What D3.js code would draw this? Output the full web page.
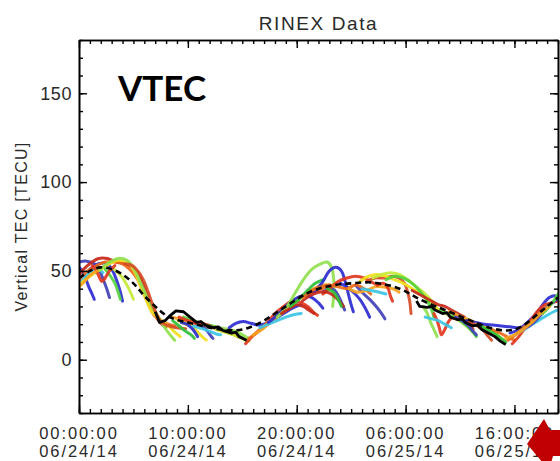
<!DOCTYPE html>
<html>
<head>
<meta charset="utf-8">
<script src="https://cdn.jsdelivr.net/npm/d3@7"></script>
<style>
  body { margin: 0; background: #fff; }
  svg { display: block; }
</style>
</head>
<body>
<div id="chart"></div>
<script>
// hours since 06/24/14 00:00 UT, TEC in TECU
const tickHours = [0, 10, 20, 30, 40];
const tickTimes = ['00:00:00', '10:00:00', '20:00:00', '06:00:00', '16:00:00'];
const tickDates = ['06/24/14', '06/24/14', '06/24/14', '06/25/14', '06/25/14'];
const yMajor = [0, 50, 100, 150];

// station mean VTEC, one value per hour (0..44)
const meanTec = [46, 50, 52, 51, 48, 43, 36, 30, 25, 22.5, 21, 19.5, 18, 17, 16.5,
  17, 19, 22, 26, 30, 34, 37.5, 40, 41.5, 42.5, 43, 43.5, 43.5, 42.5, 41, 38.5,
  35, 32, 29.5, 27, 24.5, 22, 19.5, 17.5, 16.5, 17, 20, 25, 30, 35];

// reference receiver (solid black), two passes
const refPassA = [[7, 27], [7.4, 21], [7.9, 22], [8.4, 25], [8.9, 27.5], [9.6, 27],
  [10.2, 24], [10.8, 21], [11.2, 21.5], [11.6, 19.5], [12.4, 18], [12.8, 18.5],
  [13.2, 16.5], [14, 15], [14.4, 15.5], [14.7, 13], [15.4, 11]];
const refPassB = [[31, 33], [31.3, 30], [32, 29.5], [32.4, 30], [32.7, 28], [33.4, 26],
  [33.8, 26.5], [34.1, 24], [34.8, 22.5], [35.2, 23], [35.5, 21], [36.2, 19],
  [36.6, 19.5], [37, 17], [37.6, 15], [38.2, 13], [38.7, 10.5], [39.2, 8.5]];

// satellite arcs
const satIds = ['G02', 'G05', 'G06', 'G07', 'G09', 'G10', 'G13', 'G16', 'G20', 'G23', 'G26', 'G29', 'G30'];
const arcs = [
  { sat: 'G02', pts: [[0, 52], [0.3, 50], [0.6, 46], [0.9, 41], [1.2, 37], [1.4, 34]] },
  { sat: 'G05', pts: [[0, 55], [0.7, 55.5], [1.4, 54], [1.9, 50], [2.3, 44], [2.6, 39], [2.8, 35]] },
  { sat: 'G02', pts: [[1, 51], [1.8, 54], [2.6, 54], [3.1, 50], [3.5, 44], [3.8, 38], [4, 33]] },
  { sat: 'G06', pts: [[0, 44], [0.6, 47], [1.2, 50], [1.8, 51], [2.2, 49]] },
  { sat: 'G29', pts: [[0, 48], [0.6, 52], [1.2, 55], [1.8, 57], [2.6, 57], [3.4, 55], [4.2, 54], [4.9, 52], [5.5, 48], [6, 41], [6.4, 34], [6.8, 28], [7.2, 23], [7.6, 20], [8, 18.5]] },
  { sat: 'G23', pts: [[0, 45], [0.8, 50], [1.6, 53], [2.4, 55], [3.2, 55], [4, 54], [4.8, 50], [5.4, 45], [5.9, 38], [6.4, 31], [6.9, 25], [7.5, 22], [8.2, 20], [8.8, 19]] },
  { sat: 'G16', pts: [[0, 42], [1, 47], [2, 51], [2.8, 54], [3.6, 56], [4.4, 55], [5, 51], [5.5, 44], [6.1, 35], [6.7, 27], [7.4, 23], [8.2, 19], [8.9, 15], [9.3, 13]] },
  { sat: 'G10', pts: [[1.6, 49], [2.6, 54], [3.6, 57], [4.4, 56], [5, 52], [5.6, 44], [6.2, 36], [6.8, 29], [7.4, 23], [8, 17], [8.5, 13], [8.8, 11]] },
  { sat: 'G09', pts: [[2.4, 51], [2.9, 47], [3.3, 43], [3.6, 38], [3.8, 34]] },
  { sat: 'G13', pts: [[3.2, 51], [3.9, 47], [4.4, 42], [4.8, 37], [5, 34]] },
  { sat: 'G26', pts: [[1.2, 53], [1.6, 50], [1.9, 46], [2.1, 44], [2.4, 46], [2.8, 50], [3.3, 53]] },
  { sat: 'G20', pts: [[0, 41], [0.5, 44], [1.1, 48], [1.7, 50]] },
  { sat: 'G30', pts: [[4.2, 54], [4.9, 53], [5.4, 50], [5.9, 45], [6.3, 39], [6.7, 32], [7.1, 26], [7.6, 21], [8.3, 19], [9, 18], [9.8, 17.5]] },

  { sat: 'G20', pts: [[8.4, 24], [9.2, 23], [10, 21], [10.8, 20], [11.6, 19], [12.4, 18], [13.2, 16], [14, 14.5], [14.6, 13]] },
  { sat: 'G16', pts: [[9.1, 22], [9.8, 20], [10.5, 18], [11, 15], [11.4, 12.5], [11.7, 11]] },
  { sat: 'G09', pts: [[9.6, 24], [10.5, 22], [11.4, 20], [12.3, 19], [13.2, 17], [14.1, 15], [14.8, 13], [15.3, 11]] },
  { sat: 'G02', pts: [[9.4, 21], [9.9, 20], [10.4, 17.5], [10.7, 15], [10.9, 13]] },
  { sat: 'G05', pts: [[10.8, 20], [11.3, 19], [11.8, 16], [12.1, 13.5], [12.3, 12]] },
  { sat: 'G26', pts: [[9.2, 24], [10, 22], [10.8, 20.5], [11.6, 20], [12.4, 18], [13.2, 16.5], [14, 15], [14.6, 13]] },
  { sat: 'G10', pts: [[11.8, 19], [12.8, 18], [13.8, 17], [14.6, 15.5], [15.2, 13.5], [15.6, 12]] },
  { sat: 'G07', pts: [[8.6, 22], [9.2, 19], [9.8, 16], [10.3, 14], [10.6, 12]] },
  { sat: 'G06', pts: [[10.5, 19], [11.3, 17.5], [12, 16], [12.6, 14.5], [13, 14]] },
  { sat: 'G13', pts: [[12.6, 17], [13.4, 15.5], [14.2, 14], [15, 12], [15.6, 10.5]] },
  { sat: 'G02', pts: [[13.8, 18], [14.4, 20.5], [15.1, 21.5], [15.8, 20.5], [16.5, 19.5], [17.2, 20.5], [18, 23], [18.8, 26], [19.6, 29], [20.4, 31]] },

  { sat: 'G26', pts: [[15.3, 9], [15.9, 13], [16.6, 17], [17.3, 21], [18, 26], [18.8, 30], [19.6, 33], [20.4, 32], [21, 30], [21.5, 27], [21.9, 25]] },
  { sat: 'G23', pts: [[15.6, 12], [16.3, 15], [17, 19], [17.8, 23], [18.6, 27], [19.4, 31], [20.2, 35], [21, 37], [21.8, 39], [22.6, 40.5], [23.3, 41]] },
  { sat: 'G20', pts: [[16, 14], [16.8, 17], [17.6, 21], [18.4, 25], [19.2, 29], [20, 33], [20.8, 37], [21.6, 40], [22.3, 42], [23, 42]] },
  { sat: 'G06', pts: [[16.6, 18], [17.4, 20], [18.2, 22], [19, 24], [19.8, 25.5], [20.4, 26]] },
  { sat: 'G02', pts: [[17.4, 21], [18.2, 25], [19, 30], [19.8, 34], [20.6, 36], [21.4, 35], [22, 32], [22.4, 29]] },
  { sat: 'G10', pts: [[18.2, 24], [19, 29], [19.8, 37], [20.6, 45], [21.4, 51], [22.2, 54], [22.8, 55], [23.2, 52], [23.4, 45], [23.4, 37], [23.3, 30]] },
  { sat: 'G29', pts: [[18.6, 26], [19.4, 29], [20, 31], [20.6, 30], [21.1, 28], [21.6, 26]] },
  { sat: 'G07', pts: [[19.4, 30], [20.2, 34], [21, 39], [21.7, 43], [22.4, 45]] },

  { sat: 'G02', pts: [[21.6, 38], [22.4, 44], [23, 50], [23.6, 52], [24.1, 50], [24.4, 45], [24.7, 38], [25, 31], [25.2, 27]] },
  { sat: 'G05', pts: [[22.4, 38], [23, 40], [23.5, 39], [23.9, 35], [24.2, 31], [24.4, 28]] },
  { sat: 'G02', pts: [[24, 43], [24.6, 41], [25.2, 38], [25.8, 34], [26.3, 29], [26.7, 24]] },
  { sat: 'G05', pts: [[25.4, 42], [26, 38], [26.7, 34], [27.3, 30], [27.8, 26], [28.1, 23]] },
  { sat: 'G26', pts: [[22.4, 37], [23, 40], [23.8, 44], [24.6, 46], [25.4, 47], [26.2, 46], [26.8, 44], [27.4, 42]] },
  { sat: 'G29', pts: [[20.5, 33], [21.2, 36], [22, 38], [22.8, 38], [23.4, 36], [23.9, 33], [24.3, 30]] },
  { sat: 'G23', pts: [[20.6, 35], [21.4, 39], [22.2, 41], [23, 42], [23.8, 41], [24.6, 40], [25.4, 42], [26.2, 40], [26.8, 37]] },
  { sat: 'G30', pts: [[26.4, 44], [27.2, 46], [28, 46], [28.8, 47], [29.4, 46], [29.9, 43], [30.2, 38], [30.4, 32], [30.5, 26]] },
  { sat: 'G16', pts: [[25.8, 44], [26.6, 47], [27.4, 48], [28.2, 47], [29, 45], [29.8, 43], [30.6, 40], [31.4, 37], [32.2, 33], [32.8, 30]] },
  { sat: 'G13', pts: [[27, 46], [27.8, 48], [28.6, 49], [29.4, 48], [30.2, 45], [31, 41], [31.8, 37], [32.4, 33], [32.8, 29]] },
  { sat: 'G09', pts: [[28.2, 45], [29, 47], [29.8, 46], [30.6, 43], [31.4, 38], [32, 33], [32.4, 28], [32.6, 24]] },
  { sat: 'G20', pts: [[24.8, 40], [25.6, 38], [26.4, 39], [27.2, 41], [28, 41], [28.8, 40], [29.4, 38]] },
  { sat: 'G06', pts: [[26, 40], [26.8, 39], [27.6, 38], [28.2, 37]] },
  { sat: 'G26', pts: [[27.4, 42], [28, 43], [28.4, 40], [28.6, 36], [28.8, 33]] },
  { sat: 'G07', pts: [[22.8, 40], [23.4, 38], [23.8, 34], [24.1, 30]] },

  { sat: 'G29', pts: [[30.6, 39], [31.2, 37], [31.8, 35], [32.4, 33], [33, 31], [33.6, 30], [34.2, 28], [34.8, 26], [35.4, 24]] },
  { sat: 'G26', pts: [[32.6, 26], [32.9, 22], [33.1, 18], [33.3, 14], [33.6, 17], [34, 22], [34.6, 25], [35.2, 24], [35.8, 21], [36.2, 17]] },
  { sat: 'G10', pts: [[31.6, 30], [32, 26], [32.3, 21], [32.6, 17], [32.9, 13]] },
  { sat: 'G06', pts: [[31.8, 24], [32.4, 23], [33, 22], [33.6, 20], [34.2, 18]] },
  { sat: 'G16', pts: [[32.8, 29], [33.4, 27], [34, 25], [34.6, 23], [35.2, 21], [35.8, 18], [36.3, 15]] },
  { sat: 'G09', pts: [[33.2, 28], [33.8, 26], [34.4, 24], [35, 22], [35.6, 19], [36.1, 16], [36.5, 13]] },
  { sat: 'G20', pts: [[34, 27], [34.8, 25], [35.6, 23], [36.4, 21], [37.2, 19], [37.8, 17], [38.4, 15]] },
  { sat: 'G02', pts: [[35.6, 22], [36.4, 21], [37.2, 20], [38, 19.5], [38.8, 19], [39.6, 18.5], [40.4, 18], [41, 18.5]] },
  { sat: 'G05', pts: [[34.6, 24], [35.2, 22], [35.8, 19], [36.2, 16], [36.5, 14]] },
  { sat: 'G13', pts: [[36.4, 20], [37.2, 18], [38, 16], [38.6, 13], [39, 10.5]] },
  { sat: 'G30', pts: [[35.8, 21], [36.6, 19], [37.2, 16], [37.6, 13], [37.9, 11]] },
  { sat: 'G23', pts: [[37.6, 18], [38.3, 16], [39, 14], [39.6, 12], [40, 11]] },
  { sat: 'G07', pts: [[36.8, 19], [37.5, 17], [38.2, 14.5], [38.8, 12], [39.2, 10]] },

  { sat: 'G02', pts: [[39.6, 15], [40.4, 17], [41.2, 21], [42, 26], [42.6, 31], [43.2, 35], [43.7, 36], [44, 35]] },
  { sat: 'G26', pts: [[39.8, 9], [40.4, 13], [41, 18], [41.6, 23], [42.2, 28], [42.8, 31], [43.4, 32], [44, 33]] },
  { sat: 'G23', pts: [[39.4, 11], [40.1, 14], [40.8, 18], [41.6, 22], [42.4, 27], [43.2, 31], [44, 34]] },
  { sat: 'G06', pts: [[40.6, 16], [41.4, 19], [42.2, 22], [43, 25], [43.6, 27], [44, 28]] },
  { sat: 'G05', pts: [[40.8, 17], [41.6, 20], [42.4, 25], [43.1, 30], [43.7, 33], [44, 34]] },
  { sat: 'G09', pts: [[42.6, 26], [43.2, 30], [43.7, 34], [44, 37]] },
  { sat: 'G20', pts: [[39.2, 12], [40, 14], [40.8, 17], [41.6, 21], [42.4, 26], [43.2, 30]] }
];

const width = 560;
const height = 461;
const plot = { left: 79, right: 558, top: 40, bottom: 413 };
const labelFont = "'Liberation Sans', Arial, sans-serif";
const labelColor = '#2a2a2a';

const satColor = d3.scaleOrdinal()
  .domain(satIds)
  .range(['#2c2cd2', '#4040b8', '#3cc4e4', '#2fbf3a', '#55d23e', '#8fe04e', '#c6ea38',
    '#f1e01e', '#f4a21e', '#ec6a1a', '#e2361e', '#c62818', '#d64c26']);

const x = d3.scaleLinear().domain([0, 44]).range([plot.left, plot.right]);
const y = d3.scaleLinear().domain([-30, 180]).range([plot.bottom, plot.top]);

const svg = d3.select('#chart')
  .append('svg')
  .attr('width', width)
  .attr('height', height)
  .style('background', '#fff');

svg.append('defs')
  .append('clipPath')
  .attr('id', 'plot-clip')
  .append('rect')
  .attr('x', plot.left)
  .attr('y', plot.top)
  .attr('width', plot.right - plot.left)
  .attr('height', plot.bottom - plot.top);

const line = d3.line()
  .x((d) => x(d[0]))
  .y((d) => y(d[1]))
  .curve(d3.curveCatmullRom.alpha(0.5));

const data = svg.append('g').attr('clip-path', 'url(#plot-clip)');

data.append('g')
  .attr('class', 'arcs')
  .selectAll('path')
  .data(arcs)
  .join('path')
  .attr('d', (d) => line(d.pts))
  .attr('fill', 'none')
  .attr('stroke', (d) => satColor(d.sat))
  .attr('stroke-width', 3)
  .attr('stroke-linejoin', 'round')
  .attr('stroke-linecap', 'round')
  .attr('opacity', 0.92);

data.append('path')
  .attr('class', 'mean')
  .attr('d', line(meanTec.map((v, i) => [i, v])))
  .attr('fill', 'none')
  .attr('stroke', '#000')
  .attr('stroke-width', 2.6)
  .attr('stroke-dasharray', '6,4');

data.append('g')
  .attr('class', 'ref')
  .selectAll('path')
  .data([refPassA, refPassB])
  .join('path')
  .attr('d', d3.line().x((d) => x(d[0])).y((d) => y(d[1])))
  .attr('fill', 'none')
  .attr('stroke', '#000')
  .attr('stroke-width', 2.8)
  .attr('stroke-linejoin', 'round');

// axes: ticks point inward on all four sides
const minorHours = d3.range(0, 45);
const minorTec = d3.range(-30, 181, 10);

function styleAxis(g) {
  g.select('.domain').attr('stroke', '#000').attr('stroke-width', 1.6);
  g.selectAll('.tick line').attr('stroke', '#000').attr('stroke-width', 1.4);
}

svg.append('g')
  .attr('transform', `translate(0,${plot.bottom})`)
  .call(d3.axisBottom(x).tickValues(minorHours).tickSize(-4).tickSizeOuter(0).tickFormat(''))
  .call(styleAxis);
svg.append('g')
  .attr('transform', `translate(0,${plot.bottom})`)
  .call(d3.axisBottom(x).tickValues(tickHours).tickSize(-8).tickSizeOuter(0).tickFormat(''))
  .call(styleAxis);
svg.append('g')
  .attr('transform', `translate(0,${plot.top})`)
  .call(d3.axisTop(x).tickValues(minorHours).tickSize(-4).tickSizeOuter(0).tickFormat(''))
  .call(styleAxis);
svg.append('g')
  .attr('transform', `translate(0,${plot.top})`)
  .call(d3.axisTop(x).tickValues(tickHours).tickSize(-8).tickSizeOuter(0).tickFormat(''))
  .call(styleAxis);
svg.append('g')
  .attr('transform', `translate(${plot.left},0)`)
  .call(d3.axisLeft(y).tickValues(minorTec).tickSize(-4).tickSizeOuter(0).tickFormat(''))
  .call(styleAxis);
svg.append('g')
  .attr('transform', `translate(${plot.left},0)`)
  .call(d3.axisLeft(y).tickValues(yMajor).tickSize(-8).tickSizeOuter(0).tickPadding(7))
  .call(styleAxis)
  .call((g) => g.selectAll('.tick text')
    .attr('font-family', labelFont)
    .attr('font-size', 18)
    .attr('fill', labelColor)
    .attr('letter-spacing', 0.6));
svg.append('g')
  .attr('transform', `translate(${plot.right},0)`)
  .call(d3.axisRight(y).tickValues(minorTec).tickSize(-4).tickSizeOuter(0).tickFormat(''))
  .call(styleAxis);
svg.append('g')
  .attr('transform', `translate(${plot.right},0)`)
  .call(d3.axisRight(y).tickValues(yMajor).tickSize(-8).tickSizeOuter(0).tickFormat(''))
  .call(styleAxis);

// two-line time labels under the x axis
const xLabels = svg.append('g')
  .attr('font-family', labelFont)
  .attr('font-size', 16.5)
  .attr('fill', labelColor)
  .attr('letter-spacing', 1.9)
  .attr('text-anchor', 'middle')
  .selectAll('text')
  .data(tickHours)
  .join('text');

xLabels.append('tspan')
  .attr('x', (d) => x(d))
  .attr('y', 439)
  .text((d, i) => tickTimes[i]);
xLabels.append('tspan')
  .attr('x', (d) => x(d))
  .attr('y', 457)
  .text((d, i) => tickDates[i]);

// titles
svg.append('text')
  .attr('x', (plot.left + plot.right) / 2)
  .attr('y', 30)
  .attr('text-anchor', 'middle')
  .attr('font-family', labelFont)
  .attr('font-size', 19)
  .attr('letter-spacing', 1.6)
  .attr('fill', labelColor)
  .text('RINEX Data');

svg.append('text')
  .attr('transform', `translate(27,${(plot.top + plot.bottom) / 2}) rotate(-90)`)
  .attr('text-anchor', 'middle')
  .attr('font-family', labelFont)
  .attr('font-size', 16)
  .attr('letter-spacing', 1.3)
  .attr('fill', labelColor)
  .text('Vertical TEC [TECU]');

svg.append('text')
  .attr('x', 118)
  .attr('y', 101)
  .attr('font-family', "Lato, 'Open Sans', sans-serif")
  .attr('font-weight', 700)
  .attr('font-size', 35)
  .attr('fill', '#000')
  .text('VTEC');

// red pointer arrow in the lower right corner
const arrowTip = [527, 444];
svg.append('path')
  .attr('d', d3.line()([
    arrowTip,
    [arrowTip[0] + 17, arrowTip[1] - 25],
    [arrowTip[0] + 23, arrowTip[1] - 14],
    [arrowTip[0] + 45, arrowTip[1] - 14],
    [arrowTip[0] + 45, arrowTip[1] + 12],
    [arrowTip[0] + 26, arrowTip[1] + 12],
    [arrowTip[0] + 22, arrowTip[1] + 26]
  ]) + 'Z')
  .attr('fill', '#c00000');
</script>
</body>
</html>
